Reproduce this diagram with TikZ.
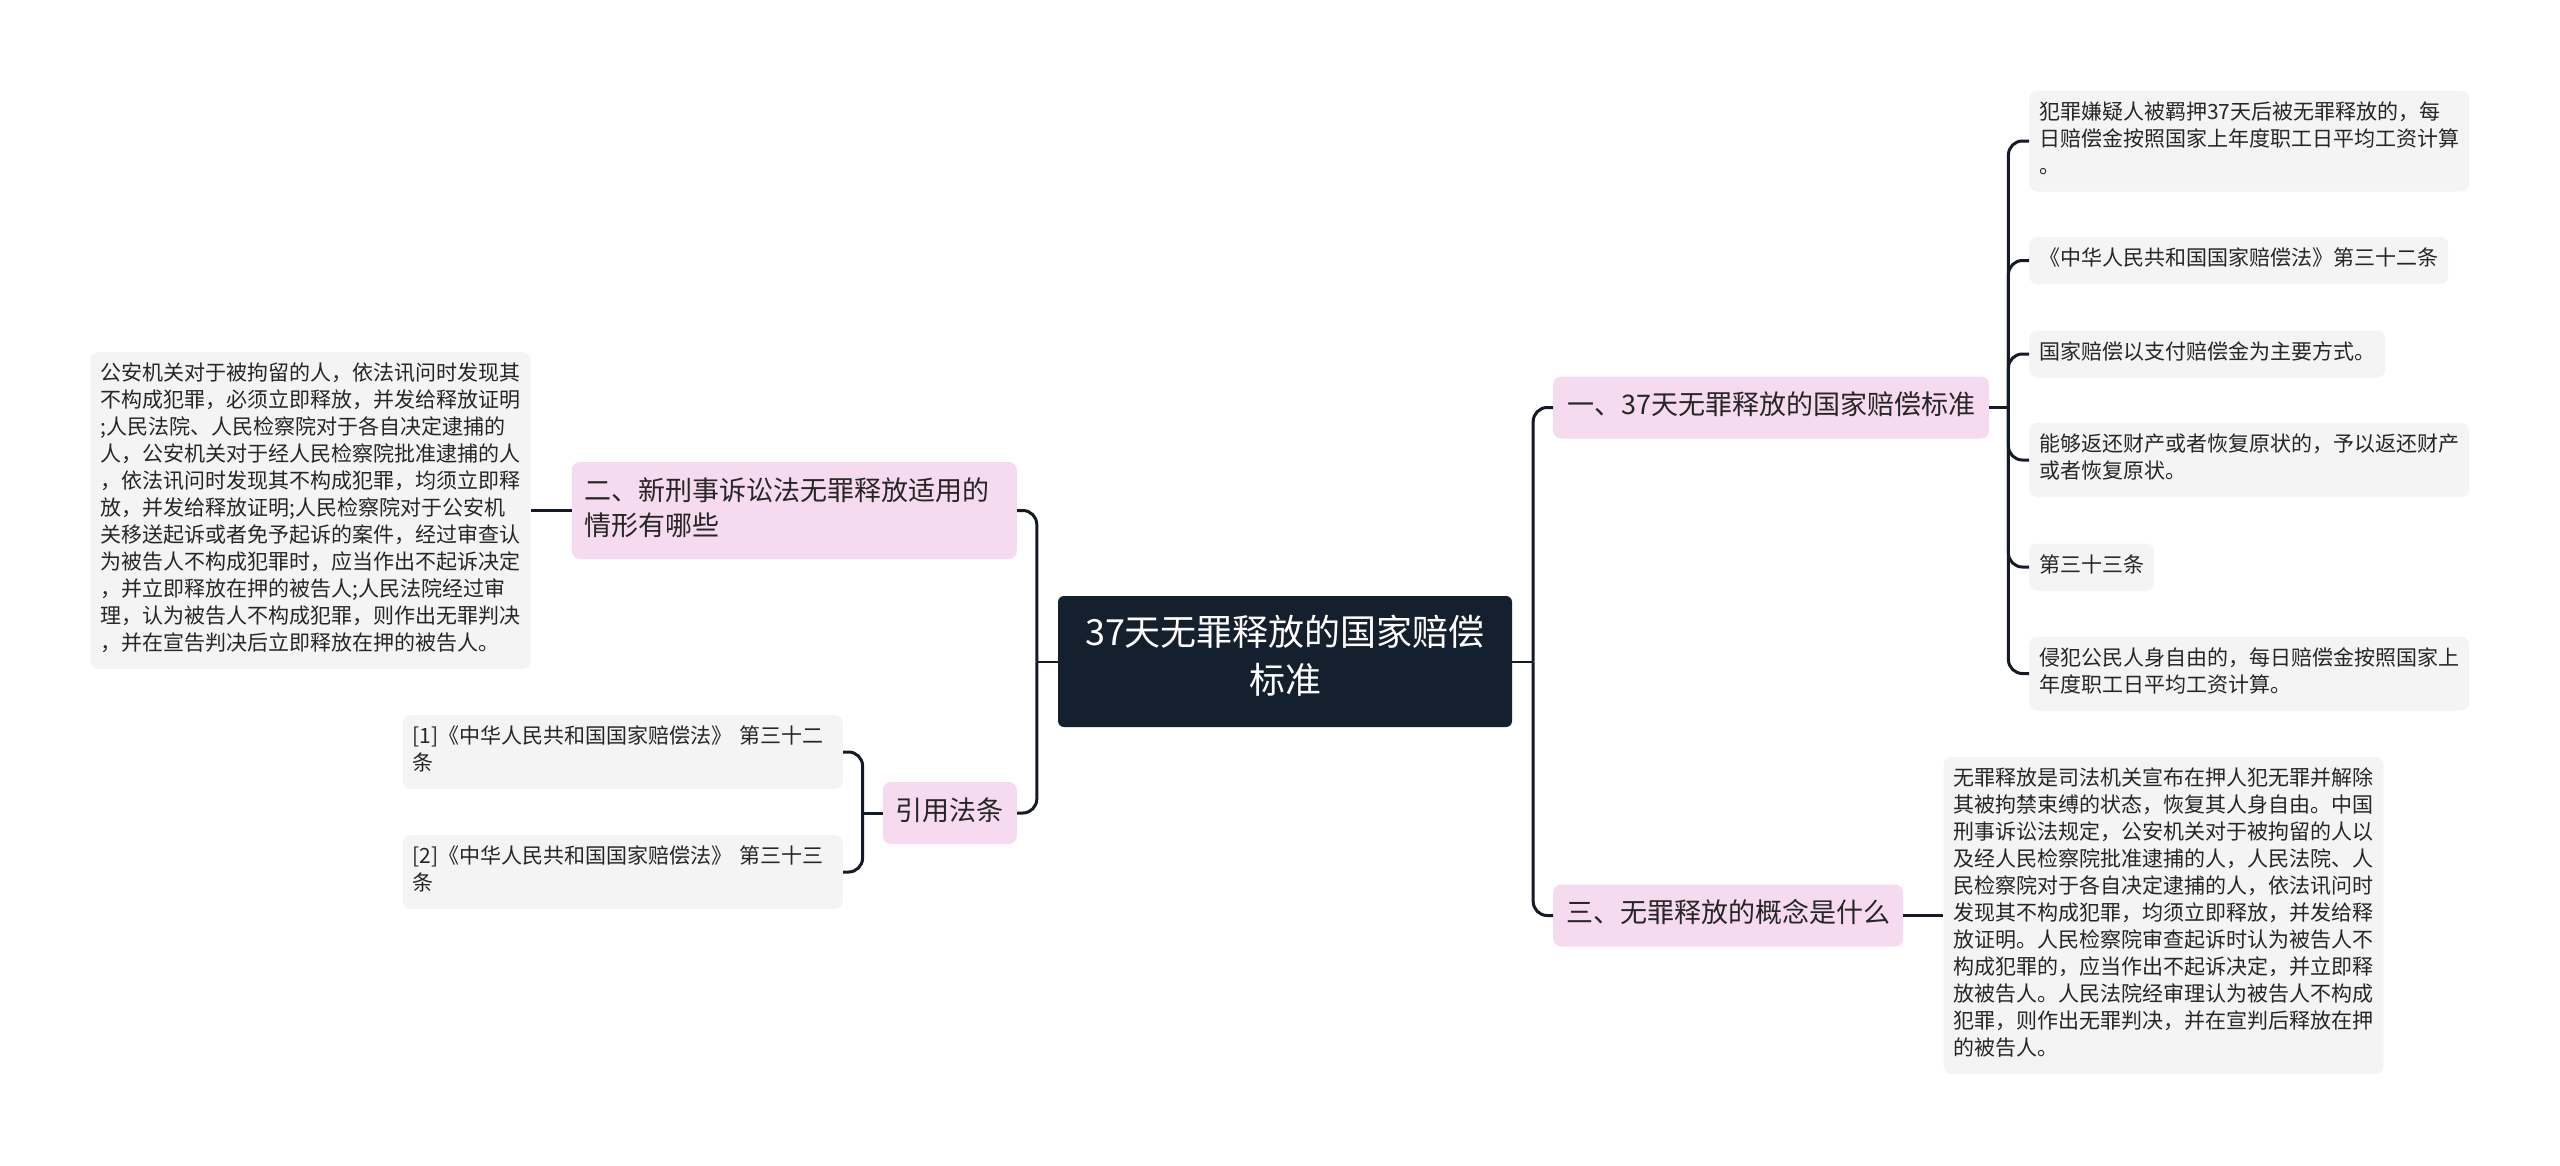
\documentclass[tikz,border=0pt]{standalone}
\usepackage{fontspec}
\setmainfont{Noto Sans CJK SC}
\usepackage{xcolor}
\usetikzlibrary{positioning}
\definecolor{RootNavy}{HTML}{15202F}
\definecolor{TopicPink}{HTML}{F5DAF0}
\definecolor{LeafGray}{HTML}{F4F4F5}
\definecolor{LinkNavy}{HTML}{141B26}
\definecolor{InkGray}{HTML}{262626}
\tikzset{
  root/.style={fill=RootNavy,text=white,rounded corners=6pt,align=center,
    minimum width=454pt,minimum height=131pt,inner sep=0pt,
    font=\fontsize{36}{48}\selectfont,
    execute at begin node=\strut,execute at end node=\strut},
  topic/.style={fill=TopicPink,text=InkGray,rounded corners=8pt,align=left,
    inner xsep=13pt,inner ysep=13.5pt,font=\fontsize{27}{35}\selectfont,
    execute at begin node=\strut,execute at end node=\strut},
  leaf/.style={fill=LeafGray,text=InkGray,rounded corners=8pt,align=left,
    inner xsep=10pt,inner ysep=10pt,font=\fontsize{21}{27}\selectfont,
    execute at begin node=\strut,execute at end node=\strut},
  link/.style={draw=LinkNavy,line width=3pt,rounded corners=14pt},
  stem/.style={draw=LinkNavy,line width=2pt}
}

\begin{document}
\begin{tikzpicture}[x=1pt,y=-1pt]
  \fill[white] (0,0) rectangle (2560,1165);
  \useasboundingbox (0,0) rectangle (2560,1165);
  % centre
  \node[root] (root) at (1285,661.5) {37天无罪释放的国家赔偿\\标准};
  % right side
  \node[topic,anchor=west,minimum width=436pt] (br1) at (1553,407.5) {一、37天无罪释放的国家赔偿标准};
  \node[topic,anchor=west] (br3) at (1553,915.5) {三、无罪释放的概念是什么};
  \node[leaf,text width=420pt,right=40pt of br3] (concept) {无罪释放是司法机关宣布在押人犯无罪并解除\\其被拘禁束缚的状态，恢复其人身自由。中国\\刑事诉讼法规定，公安机关对于被拘留的人以\\及经人民检察院批准逮捕的人，人民法院、人\\民检察院对于各自决定逮捕的人，依法讯问时\\发现其不构成犯罪，均须立即释放，并发给释\\放证明。人民检察院审查起诉时认为被告人不\\构成犯罪的，应当作出不起诉决定，并立即释\\放被告人。人民法院经审理认为被告人不构成\\犯罪，则作出无罪判决，并在宣判后释放在押\\的被告人。};
  \node[leaf,text width=420pt,anchor=west] (l1) at (2029,141) {犯罪嫌疑人被羁押37天后被无罪释放的，每\\日赔偿金按照国家上年度职工日平均工资计算\\。};
  \node[leaf,anchor=west] (l2) at (2029,260.5) {《中华人民共和国国家赔偿法》第三十二条};
  \node[leaf,anchor=west] (l3) at (2029,354) {国家赔偿以支付赔偿金为主要方式。};
  \node[leaf,text width=420pt,anchor=west] (l4) at (2029,460) {能够返还财产或者恢复原状的，予以返还财产\\或者恢复原状。};
  \node[leaf,anchor=west] (l5) at (2029,567) {第三十三条};
  \node[leaf,text width=420pt,anchor=west] (l6) at (2029,673.5) {侵犯公民人身自由的，每日赔偿金按照国家上\\年度职工日平均工资计算。};
  % left side
  \node[topic,anchor=east,text width=419pt] (br2) at (1017,510.5) {二、新刑事诉讼法无罪释放适用的\\情形有哪些};
  \node[topic,anchor=east] (br4) at (1017,813) {引用法条};
  \node[leaf,text width=420pt,left=41pt of br2] (cases) {公安机关对于被拘留的人，依法讯问时发现其\\不构成犯罪，必须立即释放，并发给释放证明\\;人民法院、人民检察院对于各自决定逮捕的\\人，公安机关对于经人民检察院批准逮捕的人\\，依法讯问时发现其不构成犯罪，均须立即释\\放，并发给释放证明;人民检察院对于公安机\\关移送起诉或者免予起诉的案件，经过审查认\\为被告人不构成犯罪时，应当作出不起诉决定\\，并立即释放在押的被告人;人民法院经过审\\理，认为被告人不构成犯罪，则作出无罪判决\\，并在宣告判决后立即释放在押的被告人。};
  \node[leaf,text width=420pt,anchor=east] (ref1) at (843,752) {[1]《中华人民共和国国家赔偿法》 第三十二\\条};
  \node[leaf,text width=420pt,anchor=east] (ref2) at (843,872) {[2]《中华人民共和国国家赔偿法》 第三十三\\条};
  % connectors
  \coordinate (jr) at ([xshift=21pt]root.east);
  \coordinate (jl) at ([xshift=-21pt]root.west);
  \coordinate (j1) at ([xshift=19pt]br1.east);
  \coordinate (j4) at ([xshift=-20pt]br4.west);
  \draw[stem] (root.east) -- (jr);
  \draw[stem] (root.west) -- (jl);
  \draw[link] (jr) |- (br1.west);
  \draw[link] (jr) |- (br3.west);
  \draw[link] (jl) |- (br2.east);
  \draw[link] (jl) |- (br4.east);
  \draw[link] (br1.east) -- (j1);
  \foreach \leafname in {l1,l2,l3,l4,l5,l6}
    \draw[link] (j1) |- (\leafname.west);
  \draw[link] (br3.east) -- (concept.west);
  \draw[link] (br2.west) -- (cases.east);
  \draw[link] (br4.west) -- (j4);
  \draw[link] (j4) |- (ref1.east);
  \draw[link] (j4) |- (ref2.east);
\end{tikzpicture}
\end{document}
